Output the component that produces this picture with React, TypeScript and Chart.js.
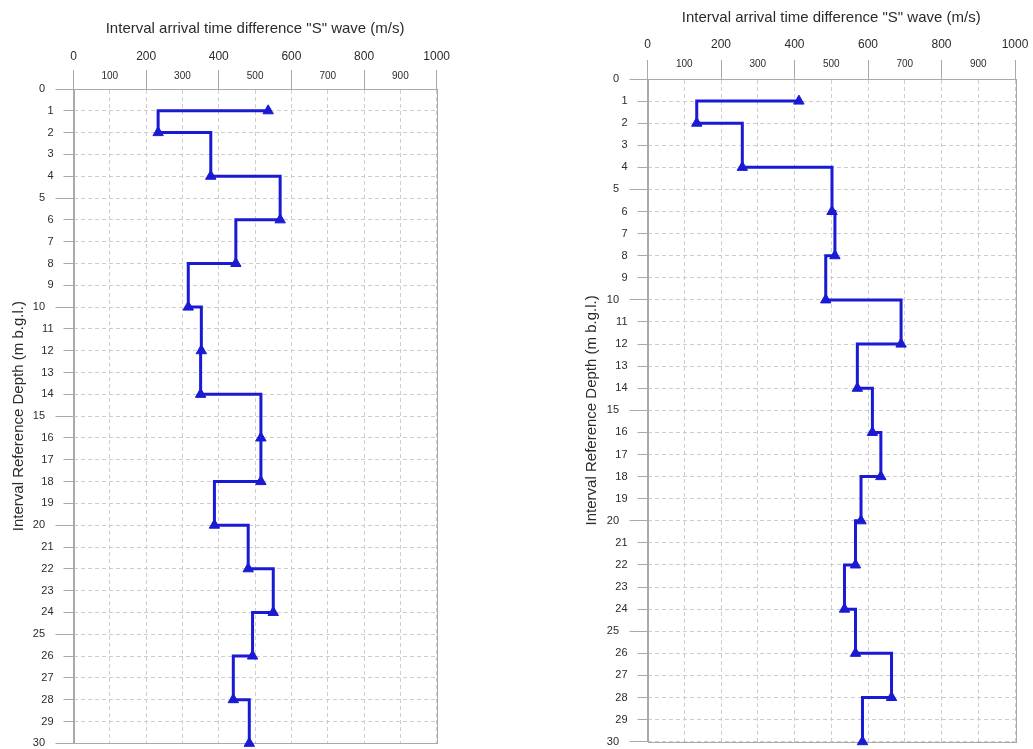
import React, { useEffect, useRef } from "react";
import { Chart, registerables } from "chart.js";

Chart.register(...registerables);

// ---- data ----
const depthsM = [1, 2, 4, 6, 8, 10, 12, 14, 16, 18, 20, 22, 24, 26, 28, 30];
const leftVelocity = [536, 233, 378, 569, 447, 316, 352, 350, 516, 516, 388, 481, 550, 493, 440, 484];
const rightVelocity = [412, 134, 258, 502, 510, 485, 690, 571, 612, 635, 581, 566, 536, 566, 664, 585];
const xMin = 0;
const xMax = 1000;
const xMinorStep = 100;
const xMajorStep = 200;
const depthMin = 0;
const depthMax = 30;
const depthStep = 1;
const depthMajorStep = 5;
const xTitle = 'Interval arrival time difference "S" wave (m/s)';
const yTitle = "Interval Reference Depth (m b.g.l.)";

// ---- styles ----
const FONT = "'Liberation Sans', Arial, Helvetica, sans-serif";
const BLUE = "#1a1ad4";
const TEXT = "#2b2b2b";
const AXIS = "#a9a9a9";
const GRID = "#cdcdcd";

type Geo = {
  left: number;
  width: number;
  height: number;
  padLeft: number;
  padTop: number;
  padRight: number;
  padBottom: number;
  y5Width: number;
  y5Pad: number;
  yWidth: number;
  xHeight: number;
  xTopHeight: number;
  minorPad: number;
};

const leftGeo: Geo = {
  left: 0, width: 516, height: 770,
  padLeft: 10, padTop: 20, padRight: 79.3, padBottom: 26.7,
  y5Width: 30, y5Pad: -7.23, yWidth: 33.5,
  xHeight: 25.3, xTopHeight: 43.7, minorPad: -12,
};
const rightGeo: Geo = {
  left: 516, width: 517, height: 770,
  padLeft: 67, padTop: 8.7, padRight: 18, padBottom: 28.3,
  y5Width: 32, y5Pad: -8.23, yWidth: 32.5,
  xHeight: 26.8, xTopHeight: 43.5, minorPad: -10.3,
};

function makeChart(canvas: HTMLCanvasElement, values: number[], geo: Geo) {
  const points = depthsM.map((d, i) => ({ x: values[i], y: d }));
  const frame = {
    id: "frame",
    beforeDatasetsDraw(chart: any) {
      const { ctx, chartArea: a } = chart;
      ctx.save();
      ctx.strokeStyle = AXIS;
      ctx.lineWidth = 1;
      ctx.strokeRect(Math.round(a.left) + 0.5, Math.round(a.top) + 0.5, Math.round(a.right - a.left), Math.round(a.bottom - a.top));
      ctx.restore();
    },
  };
  return new Chart(canvas, {
    type: "scatter",
    data: {
      datasets: [
        {
          data: points,
          showLine: true,
          stepped: "before",
          borderColor: BLUE,
          backgroundColor: BLUE,
          borderWidth: 3,
          pointStyle: "triangle",
          pointRadius: 6,
          pointBorderWidth: 1,
          pointBorderColor: BLUE,
          pointBackgroundColor: BLUE,
          clip: false,
          xAxisID: "x",
          yAxisID: "y",
        } as any,
      ],
    },
    options: {
      animation: false,
      responsive: false,
      events: [],
      layout: {
        padding: { left: geo.padLeft, top: geo.padTop, right: geo.padRight, bottom: geo.padBottom },
      },
      plugins: { legend: { display: false }, tooltip: { enabled: false } },
      scales: {
        x: {
          type: "linear",
          axis: "x",
          position: "top",
          min: xMin,
          max: xMax,
          weight: 0,
          ticks: {
            stepSize: xMinorStep,
            autoSkip: false,
            maxRotation: 0,
            padding: geo.minorPad,
            color: TEXT,
            font: { family: FONT, size: 10 },
            callback: (v: any) => (Math.round(v) % xMajorStep === 0 ? "" : String(Math.round(v))),
          },
          grid: {
            color: GRID,
            lineWidth: 1,
            tickLength: 19,
            tickWidth: 1,
            tickColor: (c: any) => (c.tick && Math.round(c.tick.value) % xMajorStep === 0 ? AXIS : "rgba(0,0,0,0)"),
          },
          border: { display: true, color: AXIS, width: 1, dash: [4, 3] },
          afterFit: (s: any) => { s.height = geo.xHeight; },
        },
        xTop: {
          type: "linear",
          axis: "x",
          position: "top",
          min: xMin,
          max: xMax,
          weight: 1,
          ticks: {
            stepSize: xMajorStep,
            autoSkip: false,
            maxRotation: 0,
            padding: 0,
            color: TEXT,
            font: { family: FONT, size: 12 },
            callback: (v: any) => String(Math.round(v)),
          },
          grid: { display: false, drawTicks: false, drawOnChartArea: false },
          border: { display: false },
          title: { display: true, text: xTitle, color: TEXT, font: { family: FONT, size: 15 }, padding: 0 },
          afterFit: (s: any) => { s.height = geo.xTopHeight; },
        },
        y: {
          type: "linear",
          axis: "y",
          position: "left",
          reverse: true,
          min: depthMin,
          max: depthMax,
          weight: 0,
          ticks: {
            stepSize: depthStep,
            autoSkip: false,
            padding: 2,
            color: TEXT,
            font: { family: FONT, size: 11 },
            callback: (v: any) => (Math.round(v) % depthMajorStep === 0 ? "" : String(Math.round(v))),
          },
          grid: {
            color: GRID,
            lineWidth: 1,
            tickLength: 18,
            tickWidth: 1,
            tickColor: AXIS,
            tickBorderDash: (c: any) => (c.tick && Math.round(c.tick.value) % depthMajorStep === 0 ? [] : [0, 8, 10, 100]),
          },
          border: { display: true, color: AXIS, width: 1, dash: [4, 3] },
          afterFit: (s: any) => { s.width = geo.yWidth; },
        },
        y5: {
          type: "linear",
          axis: "y",
          position: "left",
          reverse: true,
          min: depthMin,
          max: depthMax,
          weight: 1,
          ticks: {
            stepSize: depthMajorStep,
            autoSkip: false,
            mirror: true,
            crossAlign: "far",
            padding: geo.y5Pad,
            color: TEXT,
            font: { family: FONT, size: 11 },
            callback: (v: any) => String(Math.round(v)),
          },
          grid: { display: false, drawTicks: false, drawOnChartArea: false },
          border: { display: false },
          title: { display: true, text: yTitle, color: TEXT, font: { family: FONT, size: 15 }, padding: 0 },
          afterFit: (s: any) => { s.width = geo.y5Width; },
        },
      },
    } as any,
    plugins: [frame],
  });
}

function Panel({ values, geo }: { values: number[]; geo: Geo }) {
  const ref = useRef<HTMLCanvasElement | null>(null);
  useEffect(() => {
    if (!ref.current) return;
    const chart = makeChart(ref.current, values, geo);
    return () => chart.destroy();
  }, [values, geo]);
  return (
    <div
      style={{
        position: "absolute",
        left: geo.left,
        top: 0,
        width: geo.width,
        height: 749,
        overflow: "hidden",
      }}
    >
      <canvas ref={ref} width={geo.width} height={geo.height} style={{ display: "block", width: geo.width, height: geo.height }} />
    </div>
  );
}

export default function App() {
  return (
    <div style={{ position: "absolute", left: 0, top: 0, width: 1033, height: 749, overflow: "hidden", background: "#fff" }}>
      <Panel values={leftVelocity} geo={leftGeo} />
      <Panel values={rightVelocity} geo={rightGeo} />
    </div>
  );
}
